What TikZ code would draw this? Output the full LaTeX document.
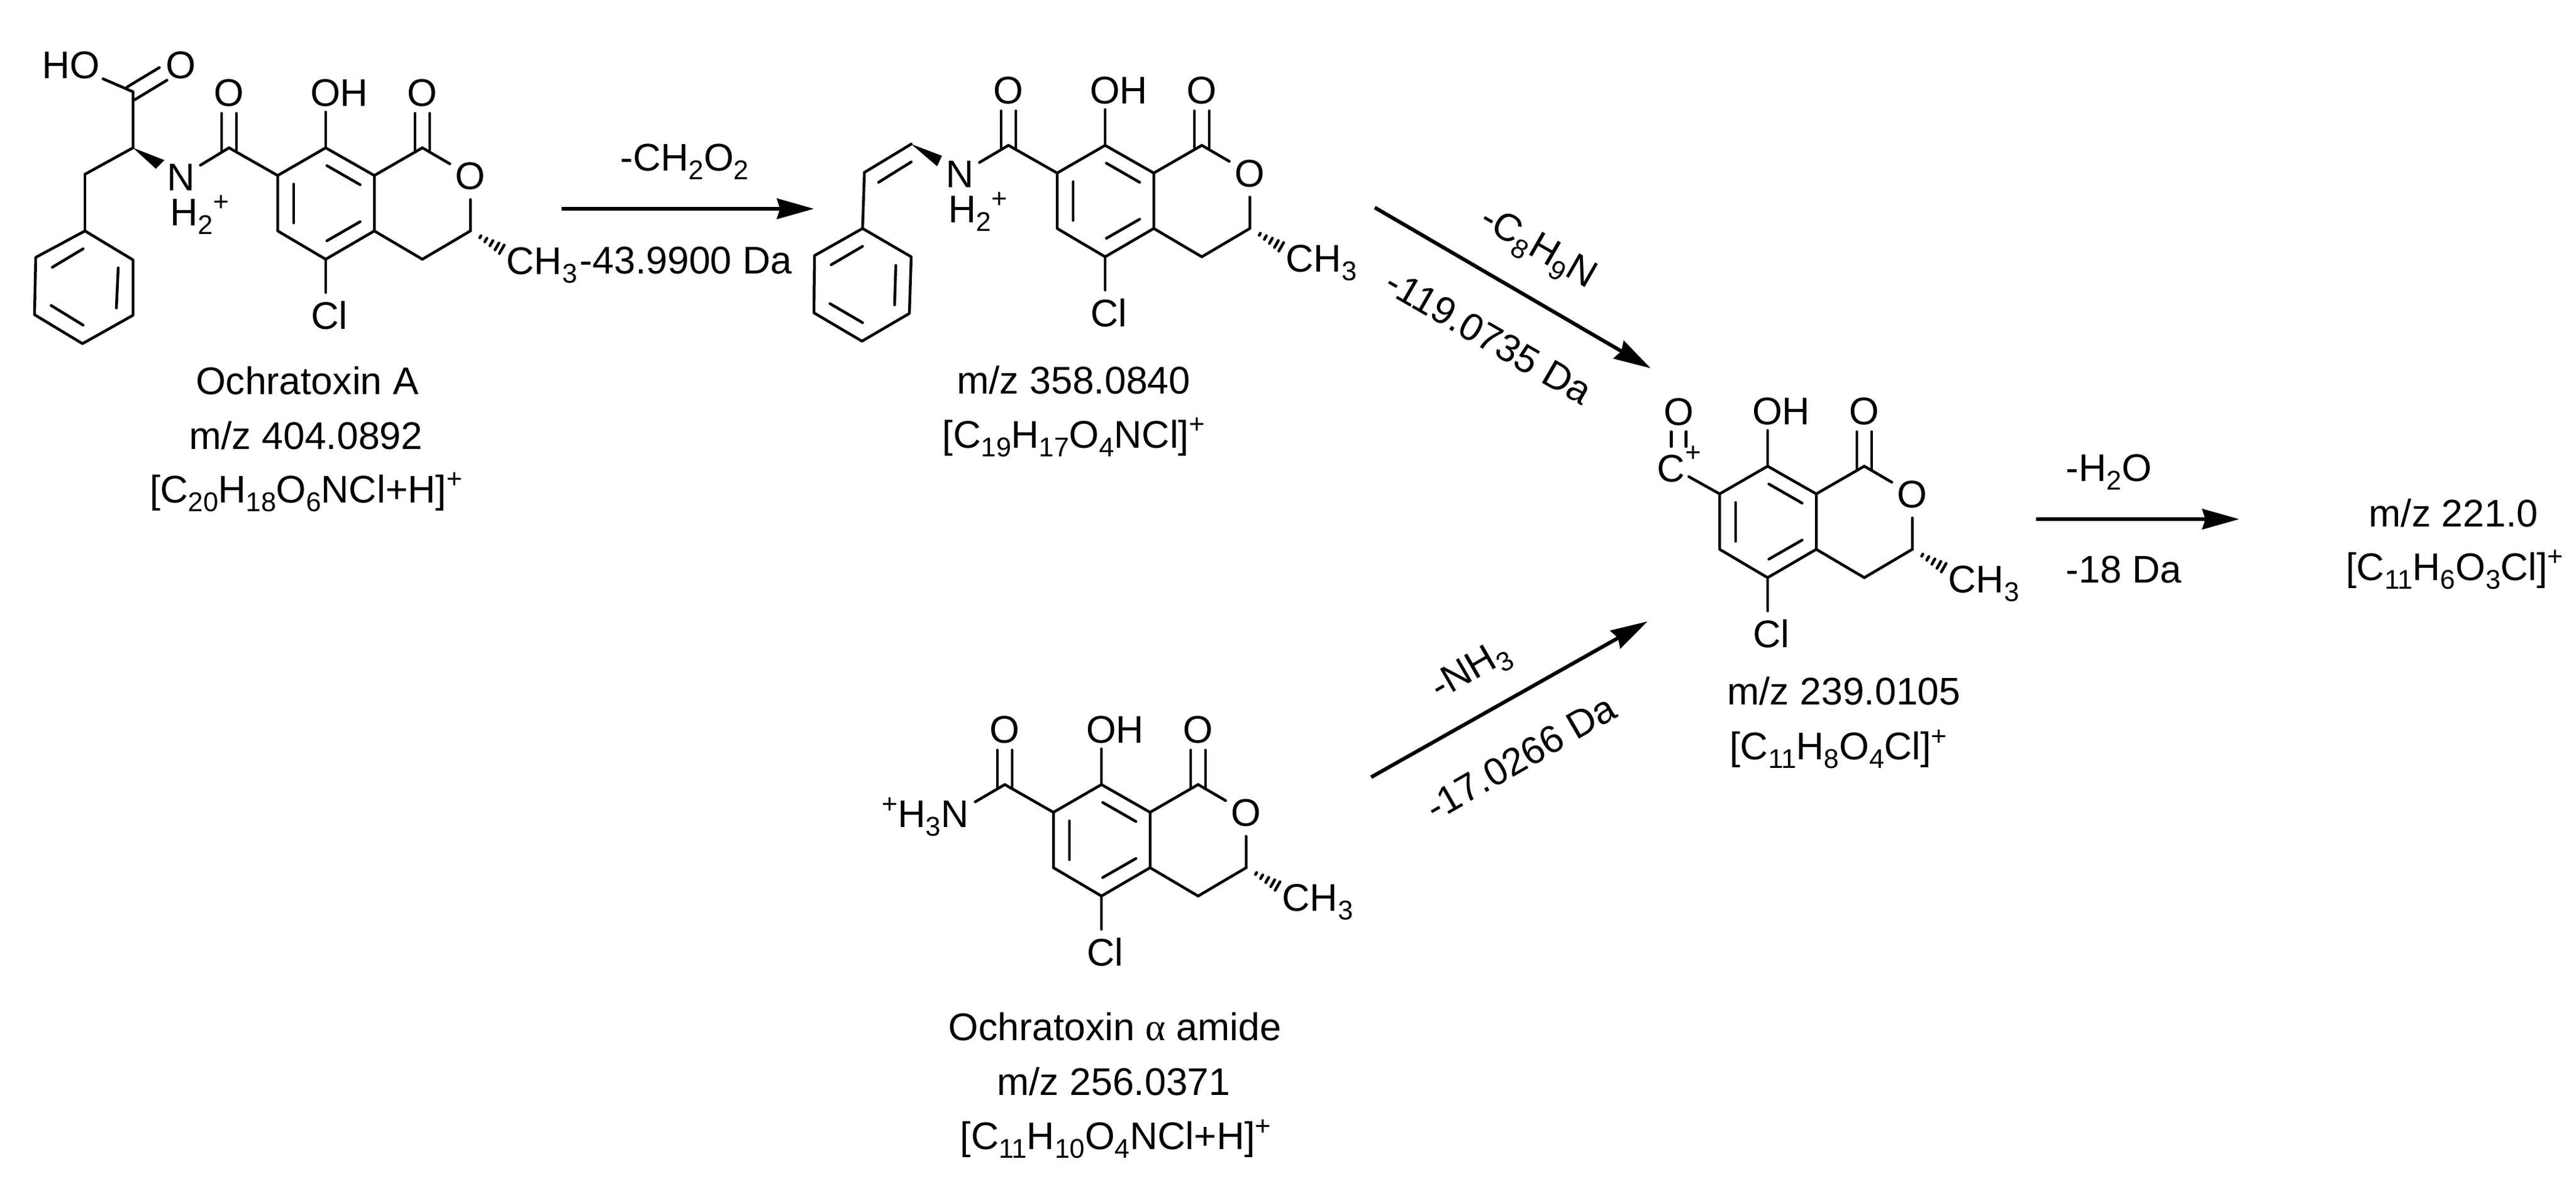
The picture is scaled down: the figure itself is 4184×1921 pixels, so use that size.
\documentclass[tikz,border=0pt]{standalone}
\usepackage{fontspec}
\setmainfont{Liberation Sans}
\newfontfamily\greekfont{Liberation Serif}
\usetikzlibrary{arrows.meta,calc}

\newcommand{\chsub}[1]{\raisebox{-0.14cm}{\fontsize{12.5}{14}\selectfont #1}}
\newcommand{\chsup}[1]{\raisebox{0.23cm}{\fontsize{12.5}{14}\selectfont #1}}

\tikzset{
    atom/.style = {circle,
                    text=black,
                    inner sep=1pt,
                    anchor=base},
    txt/.style = {text=black,
                    inner sep=0pt,
                    anchor=base},
    bond/.style = {line width=0.045cm,
                    line cap=round,
                    draw=black},
    rxn/.style = {line width=0.06cm,
                    draw=black,
                    -{Stealth[length=0.6cm,width=0.33cm,inset=0.05cm]}}
}

\newcommand{\dblbond}[2]{
    \draw[bond] ($(#1)!0.12cm!90:(#2)$) -- ($(#2)!0.12cm!-90:(#1)$);
    \draw[bond] ($(#1)!0.12cm!-90:(#2)$) -- ($(#2)!0.12cm!90:(#1)$);
}

\newcommand{\corering}[3]{
    \begin{scope}[shift={(#2,#3)},name prefix=#1-]
        \coordinate (C8) at (0,0);
        \coordinate (C8a) at (79,45);
        \coordinate (C4a) at (79,135);
        \coordinate (C5) at (0,181);
        \coordinate (C6) at (-78,135);
        \coordinate (C7) at (-78,45);
        \coordinate (C1) at (157,0);
        \coordinate (C3) at (235,135);
        \coordinate (C4) at (157,181);
        \coordinate (C1d) at (157,5);
        \coordinate (Oce) at (157,-56);
        \coordinate (OHe) at (0,-58);
        \coordinate (Cle) at (0,235);
        \coordinate (Hs) at (295,170);
        \node[atom] (Or) at (235,67) {O};
        \node[txt] (Oc) at (157,-68) {O};
        \node[txt] (OH) at (22,-68) {OH};
        \node[txt] (Cl) at (6,294) {Cl};
        \node[txt,anchor=base west] (Me) at (293,205) {CH\chsub{3}};
        \draw[bond,line join=round] (C7) -- (C8) -- (C8a) -- (C4a) -- (C5) -- (C6) -- cycle;
        \draw[bond] (C8a) -- (C1) -- (Or) -- (C3) -- (C4) -- (C4a);
        \draw[bond] (2,29) -- (56,60);
        \draw[bond] (-52,59) -- (-52,122);
        \draw[bond] (56,120) -- (2,151);
        \draw[bond] (C8) -- (OHe);
        \draw[bond] (C5) -- (Cle);
        \dblbond{C1d}{Oce}
        \foreach \s/\w in {0.27/2,0.42/3.5,0.57/5,0.72/6.5,0.85/8}
            \draw[bond] ($(C3)!\s!(Hs)+(0.5*\w,-0.87*\w)$) -- ($(C3)!\s!(Hs)+(-0.5*\w,0.87*\w)$);
    \end{scope}
}

\newcommand{\amidepart}[3]{
    \begin{scope}[shift={(#2,#3)},name prefix=#1-]
        \coordinate (Cam) at (-157,0);
        \coordinate (Camd) at (-157,5);
        \coordinate (Oae) at (-157,-56);
        \node[txt] (Oa) at (-157,-68) {O};
        \draw[bond] (C7) -- (Cam);
        \dblbond{Camd}{Oae}
    \end{scope}
}

\begin{document}
\begin{tikzpicture}[x=0.01cm,y=-0.01cm,every node/.style={font=\fontsize{17.8}{21}\selectfont}]
    \useasboundingbox (0,0) rectangle (4184,1921);

    \corering{a}{529}{240}
    \amidepart{a}{529}{240}
    \corering{b}{1795}{236}
    \amidepart{b}{1795}{236}
    \corering{c}{2871}{757}
    \corering{d}{1789}{1274}
    \amidepart{d}{1789}{1274}

    % Ochratoxin A side chain
    \coordinate (aCa) at (216,240);
    \coordinate (aCx) at (216,149);
    \coordinate (aCxd) at (212,152);
    \coordinate (aOxe) at (265,120);
    \coordinate (aCb) at (138,283);
    \coordinate (aP1) at (138,375);
    \coordinate (aP2) at (216,422);
    \coordinate (aP3) at (216,512);
    \coordinate (aP4) at (134,558);
    \coordinate (aP5) at (56,511);
    \coordinate (aP6) at (58,418);
    \coordinate (aW1) at (267,260);
    \coordinate (aW2) at (253,274);
    \node[txt] (aOx) at (294,127) {O};
    \node[atom] (aHO) at (115,127) {HO};
    \node[atom] (aN) at (294,309) {N};
    \node[txt,anchor=base west] (aNH) at (276,366) {H\chsub{2}\chsup{+}};
    \draw[bond] (a-Cam) -- (aN);
    \fill (aCa) -- (aW1) -- (aW2) -- cycle;
    \draw[bond] (aCb) -- (aCa) -- (aCx);
    \draw[bond] (aCx) -- (aHO);
    \dblbond{aCxd}{aOxe}
    \draw[bond] (aCb) -- (aP1);
    \draw[bond,line join=round] (aP1) -- (aP2) -- (aP3) -- (aP4) -- (aP5) -- (aP6) -- cycle;
    \draw[bond] (135,404) -- (85,434);
    \draw[bond] (192,435) -- (189,500);
    \draw[bond] (83,496) -- (135,528);

    % second structure side chain
    \coordinate (bCa) at (1480,234);
    \coordinate (bCb) at (1404,280);
    \coordinate (bP1) at (1401,371);
    \coordinate (bP2) at (1480,417);
    \coordinate (bP3) at (1477,509);
    \coordinate (bP4) at (1400,554);
    \coordinate (bP5) at (1322,508);
    \coordinate (bP6) at (1323,415);
    \coordinate (bW1) at (1530,253);
    \coordinate (bW2) at (1522,270);
    \node[atom] (bN) at (1559,304) {N};
    \node[txt,anchor=base west] (bNH) at (1540,361) {H\chsub{2}\chsup{+}};
    \draw[bond] (b-Cam) -- (bN);
    \fill (bCa) -- (bW1) -- (bW2) -- cycle;
    \draw[bond] (bCa) -- (bCb) -- (bP1);
    \draw[bond] (1480,263) -- (1427,296);
    \draw[bond,line join=round] (bP1) -- (bP2) -- (bP3) -- (bP4) -- (bP5) -- (bP6) -- cycle;
    \draw[bond] (1401,400) -- (1350,430);
    \draw[bond] (1455,431) -- (1453,495);
    \draw[bond] (1348,493) -- (1401,524);

    % acylium group
    \coordinate (cCe) at (2743,774);
    \coordinate (cOs) at (2726.5,725);
    \coordinate (cOt) at (2726.5,701);
    \node[txt] (cO) at (2727,690) {O};
    \node[txt] (cC) at (2714,782) {C};
    \node[txt] (cP) at (2750,749) {\fontsize{12.5}{14}\selectfont +};
    \draw[bond] (c-C7) -- (cCe);
    \dblbond{cOs}{cOt}

    % ammonium on the amide
    \coordinate (dNe) at (1584,1302);
    \node[txt,anchor=base east] (dN) at (1574,1343) {\chsup{+}H\chsub{3}N};
    \draw[bond] (d-Cam) -- (dNe);

    % captions
    \node[txt] (a1) at (499,640) {Ochratoxin A};
    \node[txt] (a2) at (497,729) {m/z 404.0892};
    \node[txt] (a3) at (497,816) {[C\chsub{20}H\chsub{18}O\chsub{6}NCl+H]\chsup{+}};
    \node[txt] (b1) at (1744,639) {m/z 358.0840};
    \node[txt] (b2) at (1744,727) {[C\chsub{19}H\chsub{17}O\chsub{4}NCl]\chsup{+}};
    \node[txt] (c1) at (2995,1144) {m/z 239.0105};
    \node[txt] (c2) at (2986,1233) {[C\chsub{11}H\chsub{8}O\chsub{4}Cl]\chsup{+}};
    \node[txt] (d1) at (1811,1689) {Ochratoxin {\greekfont α} amide};
    \node[txt] (d2) at (1809,1778) {m/z 256.0371};
    \node[txt] (d3) at (1812,1866) {[C\chsub{11}H\chsub{10}O\chsub{4}NCl+H]\chsup{+}};
    \node[txt] (e1) at (3985,855) {m/z 221.0};
    \node[txt] (e2) at (3987,942) {[C\chsub{11}H\chsub{6}O\chsub{3}Cl]\chsup{+}};

    % arrows
    \coordinate (r1s) at (912,339);
    \coordinate (r1e) at (1322,339);
    \coordinate (r2s) at (2233,337);
    \coordinate (r2e) at (2681,598);
    \coordinate (r3s) at (2227,1262);
    \coordinate (r3e) at (2676,1009);
    \coordinate (r4s) at (3307,843);
    \coordinate (r4e) at (3637,843);
    \draw[rxn] (r1s) -- (r1e);
    \draw[rxn] (r2s) -- (r2e);
    \draw[rxn] (r3s) -- (r3e);
    \draw[rxn] (r4s) -- (r4e);
    \node[txt] (l1a) at (1112,277) {-CH\chsub{2}O\chsub{2}};
    \node[txt,anchor=base west] (l1b) at (941,444) {-43.9900 Da};
    \node[rotate=-30] (l2a) at (2497,405) {-C\chsub{8}H\chsub{9}N};
    \node[rotate=-30] (l2b) at (2418,547) {-119.0735 Da};
    \node[rotate=30] (l3a) at (2390,1091) {-NH\chsub{3}};
    \node[rotate=30] (l3b) at (2470,1230) {-17.0266 Da};
    \node[txt,anchor=base west] (l4a) at (3355,781) {-H\chsub{2}O};
    \node[txt,anchor=base west] (l4b) at (3355,946) {-18 Da};
\end{tikzpicture}
\end{document}
